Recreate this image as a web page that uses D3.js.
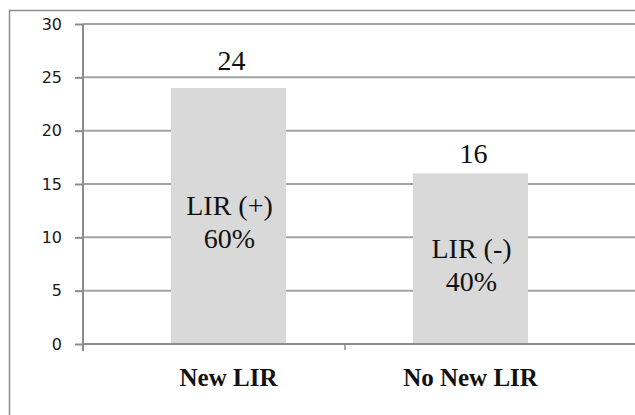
<!DOCTYPE html>
<html>
<head>
<meta charset="utf-8">
<script src="https://cdn.jsdelivr.net/npm/d3@7"></script>
<style>
  html, body { margin: 0; padding: 0; background: #fff; }
</style>
</head>
<body>
<script>
// Chart data
const categories = ["New LIR", "No New LIR"];
const counts = [24, 16];
const groupLabels = ["LIR (+)", "LIR (-)"];
const percentLabels = ["60%", "40%"];
const yTicks = [0, 5, 10, 15, 20, 25, 30];

// Layout
const W = 635, H = 415;
const plotLeft = 83, plotTop = 24, plotBottom = 344;
const valueLabelLift = [18, 10];

const svg = d3.select("body").append("svg")
  .attr("width", W).attr("height", H)
  .style("position", "absolute").style("left", "0px").style("top", "0px");

// Outer chart frame (runs off the right and bottom edges)
svg.append("rect")
  .attr("x", 9.5).attr("y", 10.5)
  .attr("width", 700).attr("height", 500)
  .attr("fill", "none").attr("stroke", "#8c8c8c").attr("stroke-width", 1.5);

const y = d3.scaleLinear().domain([0, 30]).range([plotBottom, plotTop]);

const x = d3.scaleBand()
  .domain(categories)
  .range([107.5, 591.5])
  .paddingInner(0.525)
  .paddingOuter(0.2625);

// category boundary positions for the x-axis tick marks
const xEdge = d3.scaleLinear().domain([0, categories.length]).range([plotLeft, 607]);

// Horizontal gridlines
svg.append("g")
  .selectAll("line")
  .data(yTicks.filter(d => d > 0))
  .join("line")
  .attr("x1", plotLeft).attr("x2", W)
  .attr("y1", d => y(d)).attr("y2", d => y(d))
  .attr("stroke", "#a3a3a3").attr("stroke-width", 2);

// Bars
svg.append("g")
  .selectAll("rect")
  .data(categories)
  .join("rect")
  .attr("x", d => x(d))
  .attr("y", (d, i) => y(counts[i]))
  .attr("width", x.bandwidth())
  .attr("height", (d, i) => y(0) - y(counts[i]))
  .attr("fill", "#d9d9d9");

// X axis line and category tick marks
svg.append("line")
  .attr("x1", plotLeft).attr("x2", W)
  .attr("y1", y(0)).attr("y2", y(0))
  .attr("stroke", "#8c8c8c").attr("stroke-width", 2);

svg.append("g")
  .selectAll("line")
  .data([1])
  .join("line")
  .attr("x1", d => xEdge(d)).attr("x2", d => xEdge(d))
  .attr("y1", y(0)).attr("y2", y(0) + 6)
  .attr("stroke", "#8c8c8c").attr("stroke-width", 1.5);

// Y axis
const yAxis = d3.axisLeft(y)
  .tickValues(yTicks)
  .tickSize(8)
  .tickPadding(13)
  .tickSizeOuter(0);

const gy = svg.append("g")
  .attr("transform", `translate(${plotLeft},0)`)
  .call(yAxis);
gy.select(".domain").remove();
gy.selectAll(".tick line").attr("stroke", "#8c8c8c").attr("stroke-width", 2);
gy.selectAll(".tick text")
  .attr("fill", "#1a1a1a")
  .attr("font-family", "DejaVu Sans")
  .attr("font-size", 16)
  .style("font-family", "DejaVu Sans")
  .style("font-size", "16px");

svg.append("line")
  .attr("x1", plotLeft).attr("x2", plotLeft)
  .attr("y1", plotTop).attr("y2", y(0) + 7)
  .attr("stroke", "#8c8c8c").attr("stroke-width", 2);

// serif text helper
function serifText(sel, size, bold) {
  return sel
    .attr("font-family", "Liberation Serif")
    .attr("font-size", size)
    .attr("font-weight", bold ? "bold" : "normal")
    .style("font-family", "Liberation Serif")
    .style("font-size", size + "px")
    .style("font-weight", bold ? "bold" : "normal")
    .attr("fill", "#111");
}

// Value labels above bars
svg.append("g")
  .selectAll("text")
  .data(categories)
  .join("text")
  .attr("x", d => x(d) + x.bandwidth() / 2 + 3)
  .attr("y", (d, i) => y(counts[i]) - valueLabelLift[i])
  .attr("text-anchor", "middle")
  .call(serifText, 28, false)
  .text((d, i) => counts[i]);

// Labels inside the bars
const inner = svg.append("g")
  .selectAll("g")
  .data(categories)
  .join("g")
  .attr("transform", (d, i) => {
    const mid = (y(counts[i]) + y(0)) / 2;
    return `translate(${x(d) + x.bandwidth() / 2 + 1},${mid})`;
  });

inner.append("text")
  .attr("y", -1)
  .attr("text-anchor", "middle")
  .call(serifText, 28, false)
  .text((d, i) => groupLabels[i]);

inner.append("text")
  .attr("y", 32)
  .attr("text-anchor", "middle")
  .call(serifText, 28, false)
  .text((d, i) => percentLabels[i]);

// Category labels
svg.append("g")
  .selectAll("text")
  .data(categories)
  .join("text")
  .attr("x", d => x(d) + x.bandwidth() / 2)
  .attr("y", 386)
  .attr("text-anchor", "middle")
  .call(serifText, 25, true)
  .text(d => d);
</script>
</body>
</html>
